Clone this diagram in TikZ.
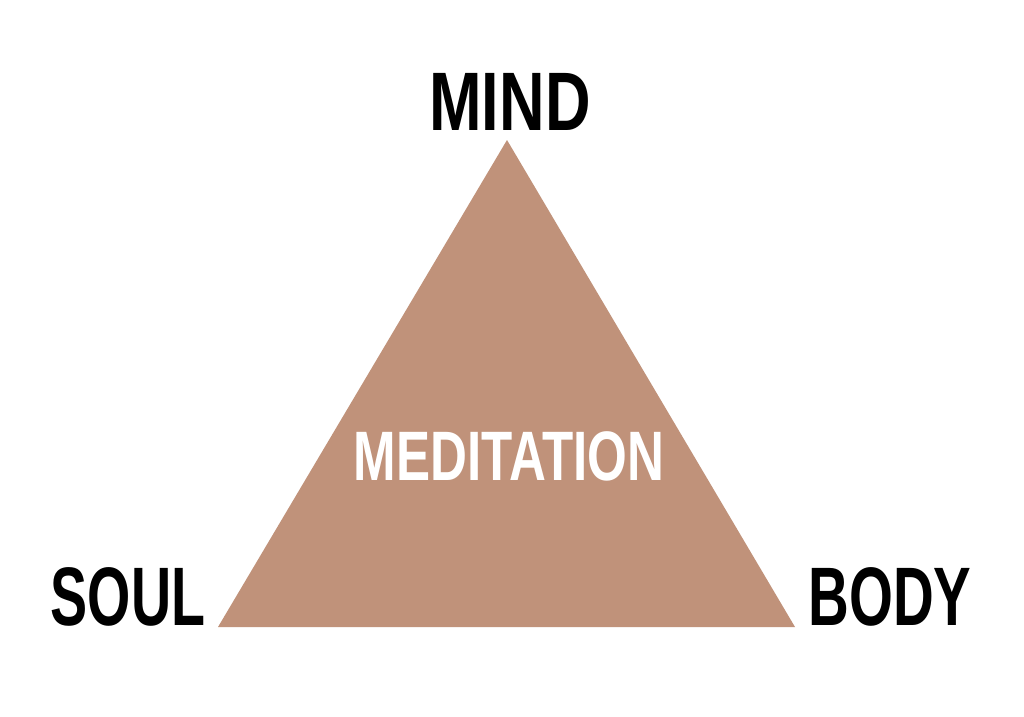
\documentclass[tikz,border=0pt]{standalone}
\usepackage{fontspec}
\setmainfont{Liberation Sans}
\definecolor{tri}{HTML}{C0927A}
\begin{document}
\begin{tikzpicture}[x=1pt,y=-1pt,
  lbl/.style={font=\fontsize{83}{83}\selectfont\bfseries, anchor=base, inner sep=0pt, transform shape}]
\useasboundingbox[fill=white] (0,0) rectangle (1024,716);
\fill[tri] (507,140) coordinate (top) -- (218,627) coordinate (bl) -- (795,627) coordinate (br) -- cycle;
\begin{scope}[xscale=0.76]
\node[lbl] (mind) at (510/0.76,130) {MIND};
\end{scope}
\begin{scope}[xscale=0.67]
\node[lbl] (soul) at (128/0.67,625) {SOUL};
\end{scope}
\begin{scope}[xscale=0.68]
\node[lbl] (body) at (890/0.68,625) {BODY};
\end{scope}
\begin{scope}[xscale=0.73]
\node[lbl, text=white, font=\fontsize{70}{70}\selectfont\bfseries] (med) at (509/0.73,480) {MEDITATION};
\end{scope}
\end{tikzpicture}
\end{document}
